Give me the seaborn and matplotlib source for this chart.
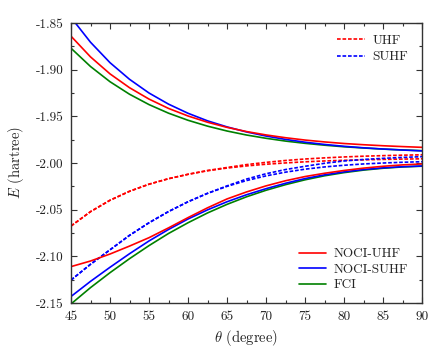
import numpy as np
import pandas as pd
import matplotlib
matplotlib.use("Agg")
import matplotlib.pyplot as plt
import seaborn as sns
from matplotlib.ticker import MultipleLocator, FormatStrFormatter

# Angle grid (degree)
theta = [45, 47.5, 50, 52.5, 55, 57.5, 60, 62.5, 65, 67.5,
         70, 72.5, 75, 77.5, 80, 82.5, 85, 87.5, 90]

# Energies (hartree)
uhf_a = [-2.0675, -2.0521, -2.0399, -2.0303, -2.0227, -2.0168, -2.0121, -2.0083, -2.0054, -2.0031,
         -2.0013, -1.9999, -1.9987, -1.9978, -1.9971, -1.9966, -1.9961, -1.9958, -1.9955]
uhf_b = [-2.0675, -2.0521, -2.0399, -2.0303, -2.0227, -2.0168, -2.0121, -2.0080, -2.0048, -2.0017,
         -1.9993, -1.9973, -1.9957, -1.9945, -1.9935, -1.9927, -1.9921, -1.9916, -1.9912]
suhf_a = [-2.1254, -2.1085, -2.0930, -2.0775, -2.0640, -2.0520, -2.0415, -2.0325, -2.0250, -2.0188,
          -2.0138, -2.0098, -2.0066, -2.0042, -2.0024, -2.0010, -2.0000, -1.9992, -1.9986]
suhf_b = [-2.1254, -2.1085, -2.0930, -2.0775, -2.0640, -2.0520, -2.0415, -2.0325, -2.0245, -2.0172,
          -2.0115, -2.0070, -2.0035, -2.0003, -1.9978, -1.9962, -1.9950, -1.9940, -1.9932]
noci_uhf_up = [-1.8641, -1.8863, -1.9045, -1.9193, -1.9315, -1.9415, -1.9496, -1.9563, -1.9618, -1.9663,
               -1.9699, -1.9729, -1.9754, -1.9774, -1.9791, -1.9804, -1.9815, -1.9824, -1.9832]
noci_uhf_lo = [-2.1110, -2.1050, -2.0975, -2.0890, -2.0800, -2.0695, -2.0585, -2.0480, -2.0385, -2.0310,
               -2.0245, -2.0190, -2.0145, -2.0110, -2.0080, -2.0055, -2.0035, -2.0020, -2.0010]
noci_suhf_up = [-1.8440, -1.8706, -1.8925, -1.9103, -1.9250, -1.9369, -1.9467, -1.9548, -1.9613, -1.9667,
                -1.9711, -1.9747, -1.9777, -1.9801, -1.9821, -1.9837, -1.9850, -1.9861, -1.9870]
noci_suhf_lo = [-2.1430, -2.1268, -2.1117, -2.0972, -2.0835, -2.0712, -2.0600, -2.0502, -2.0415, -2.0340,
                -2.0275, -2.0217, -2.0167, -2.0127, -2.0095, -2.0070, -2.0052, -2.0040, -2.0032]
fci_up = [-1.8770, -1.8966, -1.9129, -1.9263, -1.9374, -1.9466, -1.9542, -1.9605, -1.9657, -1.9700,
          -1.9735, -1.9765, -1.9789, -1.9809, -1.9826, -1.9839, -1.9851, -1.9860, -1.9868]
fci_lo = [-2.1510, -2.1335, -2.1175, -2.1025, -2.0885, -2.0755, -2.0640, -2.0535, -2.0443, -2.0362,
          -2.0292, -2.0232, -2.0180, -2.0137, -2.0103, -2.0076, -2.0056, -2.0042, -2.0034]

sns.set_style("ticks")
plt.rcParams['font.family'] = ['cmr10', 'DejaVu Serif']
plt.rcParams['mathtext.fontset'] = 'cm'
plt.rcParams['axes.unicode_minus'] = False
plt.rcParams['axes.formatter.use_mathtext'] = True

fig = plt.figure(figsize=(4.37, 3.53), dpi=100)
ax = fig.add_axes([0.1625, 0.1416, 0.8032, 0.7932])

dash = (0, (2.2, 1.1))
lw = 1.2

# dashed mean-field curves
sns.lineplot(x=theta, y=uhf_a, color='red', linestyle=dash, lw=lw, label='UHF', ax=ax, legend=False)
sns.lineplot(x=theta, y=uhf_b, color='red', linestyle=dash, lw=lw, label='_nolegend_', ax=ax, legend=False)
sns.lineplot(x=theta, y=suhf_a, color='blue', linestyle=dash, lw=lw, label='SUHF', ax=ax, legend=False)
sns.lineplot(x=theta, y=suhf_b, color='blue', linestyle=dash, lw=lw, label='_nolegend_', ax=ax, legend=False)

# solid NOCI / FCI curves
sns.lineplot(x=theta, y=fci_up, color='green', lw=lw, label='FCI', ax=ax, legend=False)
sns.lineplot(x=theta, y=fci_lo, color='green', lw=lw, label='_nolegend_', ax=ax, legend=False)
sns.lineplot(x=theta, y=noci_suhf_up, color='blue', lw=lw, label='NOCI-SUHF', ax=ax, legend=False)
sns.lineplot(x=theta, y=noci_suhf_lo, color='blue', lw=lw, label='_nolegend_', ax=ax, legend=False)
sns.lineplot(x=theta, y=noci_uhf_up, color='red', lw=lw, label='NOCI-UHF', ax=ax, legend=False)
sns.lineplot(x=theta, y=noci_uhf_lo, color='red', lw=lw, label='_nolegend_', ax=ax, legend=False)

ax.set_xlim(45, 90)
ax.set_ylim(-2.15, -1.85)
ax.xaxis.set_major_locator(MultipleLocator(5))
ax.xaxis.set_minor_locator(MultipleLocator(2.5))
ax.yaxis.set_major_locator(MultipleLocator(0.05))
ax.yaxis.set_minor_locator(MultipleLocator(0.025))
ax.yaxis.set_major_formatter(FormatStrFormatter('%.2f'))
ax.xaxis.set_major_formatter(FormatStrFormatter('%d'))

ax.tick_params(which='both', direction='in', top=True, right=True, color='#333333',
               labelcolor='#222222', labelsize=9.5)
ax.tick_params(which='major', length=4.2, width=0.8, pad=5.5)
ax.tick_params(which='minor', length=2.4, width=0.8)
for s in ax.spines.values():
    s.set_linewidth(1.0)
    s.set_color('#333333')

ax.set_xlabel(r'$\theta$ (degree)', fontsize=10.5, color='#222222', labelpad=4)
ax.set_ylabel(r'$E$ (hartree)', fontsize=10.5, color='#222222', labelpad=7)

lines = {l.get_label(): l for l in ax.get_lines()}
leg1 = ax.legend([lines['UHF'], lines['SUHF']], ['UHF', 'SUHF'],
                 loc='upper right', bbox_to_anchor=(0.96, 0.958), frameon=False,
                 borderpad=0, borderaxespad=0, handlelength=2.1, handletextpad=0.55,
                 labelspacing=0.3, fontsize=9.5)
ax.add_artist(leg1)
ax.legend([lines['NOCI-UHF'], lines['NOCI-SUHF'], lines['FCI']],
          ['NOCI-UHF', 'NOCI-SUHF', 'FCI'],
          loc='lower right', bbox_to_anchor=(0.96, 0.042), frameon=False,
          borderpad=0, borderaxespad=0, handlelength=2.1, handletextpad=0.55,
          labelspacing=0.25, fontsize=9.5)

fig.savefig('out.png', dpi=100)
